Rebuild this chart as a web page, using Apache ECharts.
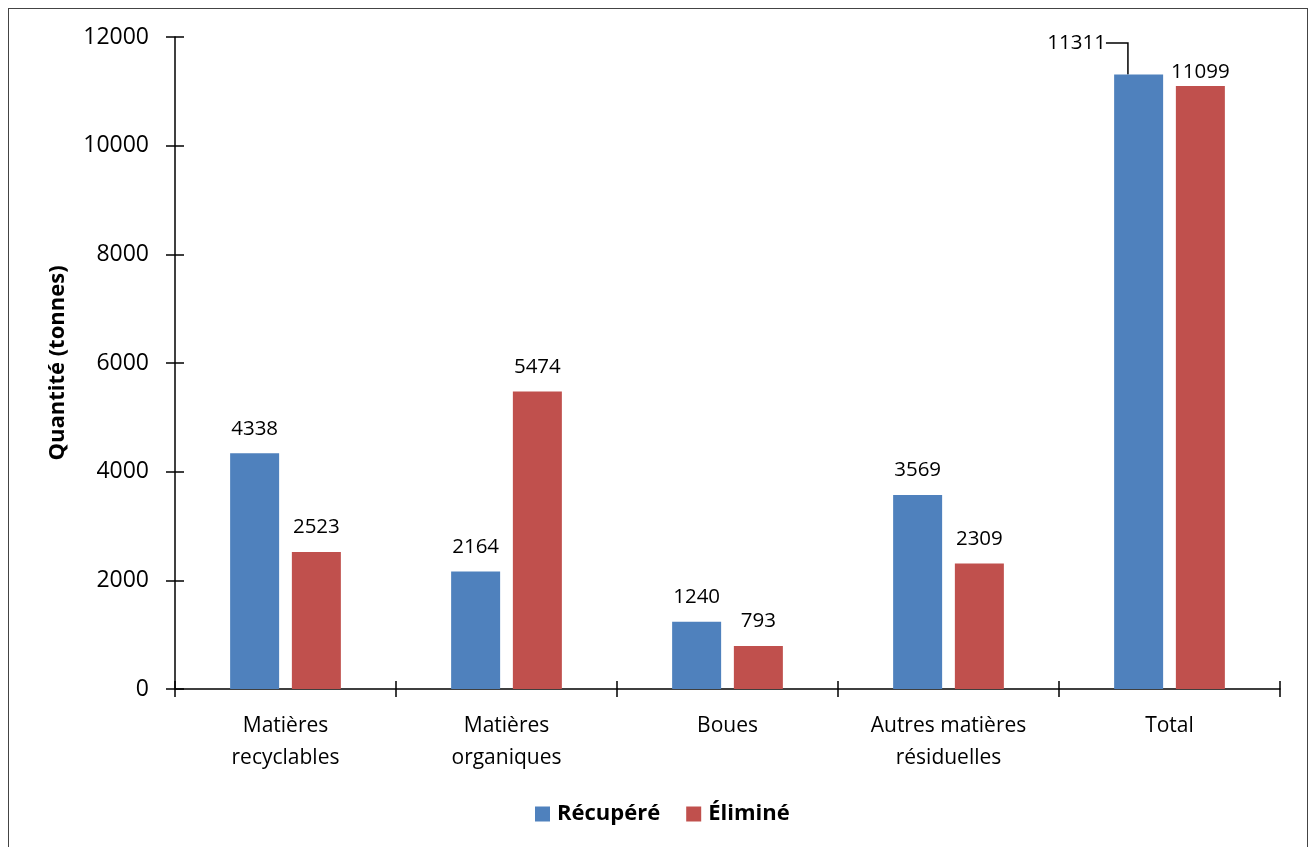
<!DOCTYPE html>
<html><head><meta charset="utf-8">
<script src="https://cdn.jsdelivr.net/npm/echarts@6/dist/echarts.min.js"></script>
<style>
html,body{margin:0;padding:0;background:#fff;}
#c{position:absolute;left:0;top:0;width:1308px;height:847px;}
#frame{position:absolute;left:8px;top:8px;width:1298px;height:860px;border:1.5px solid #444;pointer-events:none;}
</style></head>
<body>
<div id="c"></div>
<div id="frame"></div>
<script>
var categories = ['Matières\nrecyclables', 'Matières\norganiques', 'Boues', 'Autres matières\nrésiduelles', 'Total'];
var recupere = [4338, 2164, 1240, 3569, 11311];
var elimine = [2523, 5474, 793, 2309, 11099];
var seriesNames = ['Récupéré', 'Éliminé'];
var yTicks = {min: 0, max: 12000, interval: 2000};

var FONT = 'Open Sans';
var chart = echarts.init(document.getElementById('c'));

function mk(arr, special) {
  return arr.map(function (v, i) {
    if (special && special[i]) return Object.assign({value: v}, special[i]);
    return v;
  });
}

var option = {
  textStyle: {fontFamily: FONT},
  legend: {
    top: 798, left: 530, padding: 5,
    itemWidth: 15, itemHeight: 15, itemGap: 26,
    icon: 'rect',
    textStyle: {fontSize: 22, fontWeight: 'bold', color: '#000', fontFamily: FONT, padding: [0, 0, 0, 2]},
    data: seriesNames
  },
  grid: {left: 175, right: 28, top: 37, bottom: 158},
  xAxis: [{
    type: 'category', data: categories,
    axisLine: {lineStyle: {color: '#000', width: 1.5}},
    axisTick: {show: true, inside: false, length: 8, lineStyle: {color: '#000', width: 1.5}},
    axisLabel: {fontSize: 21, color: '#000', margin: 21, lineHeight: 32, fontFamily: FONT, interval: 0}
  }, {
    type: 'category', data: categories, position: 'bottom',
    axisLine: {show: false},
    axisTick: {show: true, inside: true, length: 8, lineStyle: {color: '#000', width: 1.5}},
    axisLabel: {show: false}
  }],
  yAxis: [{
    type: 'value', min: yTicks.min, max: yTicks.max, interval: yTicks.interval,
    name: 'Quantité (tonnes)', nameLocation: 'middle', nameGap: 106, nameRotate: 90,
    nameTextStyle: {fontSize: 22, fontWeight: 'bold', color: '#000', fontFamily: FONT},
    axisLine: {show: true, lineStyle: {color: '#000', width: 1.5}},
    axisTick: {show: true, inside: false, length: 9, lineStyle: {color: '#000', width: 1.5}},
    axisLabel: {fontSize: 23, color: '#000', margin: 26, fontFamily: FONT, formatter: function (v) { return String(v); }},
    splitLine: {show: false}
  }, {
    type: 'value', min: yTicks.min, max: yTicks.max, interval: yTicks.interval, position: 'left',
    axisLine: {show: false},
    axisTick: {show: true, inside: true, length: 9, lineStyle: {color: '#000', width: 1.5}},
    axisLabel: {show: false},
    splitLine: {show: false}
  }],
  series: [{
    name: seriesNames[0], type: 'bar', barWidth: 49, barGap: '26%',
    itemStyle: {color: '#4F81BD'},
    label: {show: true, position: 'top', distance: 14, fontSize: 20.5, color: '#000', fontFamily: FONT},
    data: mk(recupere, {4: {
      label: {distance: 5},
      labelLine: {show: true, length2: 22, lineStyle: {color: '#000', width: 1.5}}
    }}),
    labelLayout: function (p) {
      if (p.dataIndex === 4) return {dx: -62, dy: -16};
      return {};
    },
    labelLine: {show: false, lineStyle: {color: '#000', width: 1.5}}
  }, {
    name: seriesNames[1], type: 'bar', barWidth: 49,
    itemStyle: {color: '#C0504D'},
    label: {show: true, position: 'top', distance: 14, fontSize: 20.5, color: '#000', fontFamily: FONT},
    data: mk(elimine, {4: {label: {distance: 3}}})
  }]
};
chart.setOption(option);
</script>
</body></html>
